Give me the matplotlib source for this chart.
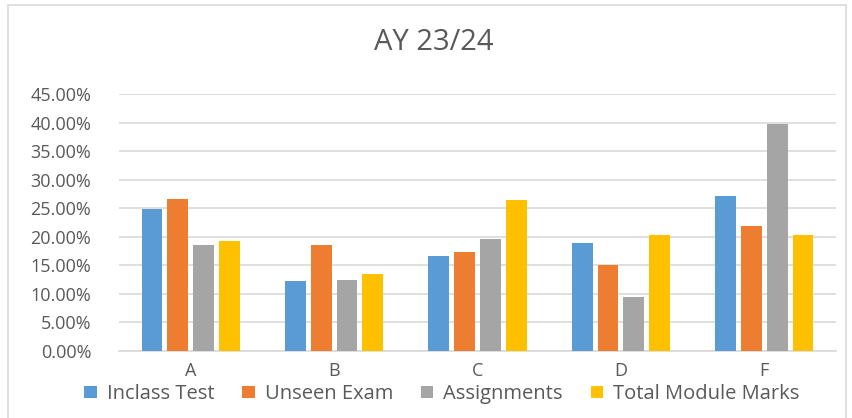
import matplotlib.pyplot as plt
import numpy as np
from matplotlib.patches import Rectangle
from matplotlib.ticker import PercentFormatter

plt.rcParams['font.family'] = ['Open Sans', 'DejaVu Sans']

grades = ['A', 'B', 'C', 'D', 'F']
inclass_test = [24.9, 12.2, 16.6, 18.9, 27.2]
unseen_exam = [26.7, 18.6, 17.3, 15.1, 21.8]
assignments = [18.6, 12.4, 19.6, 9.5, 39.7]
total_marks = [19.3, 13.5, 26.4, 20.3, 20.3]

series = [('Inclass Test', inclass_test, '#5B9BD5'),
          ('Unseen Exam', unseen_exam, '#ED7D31'),
          ('Assignments', assignments, '#A5A5A5'),
          ('Total Module Marks', total_marks, '#FFC000')]

fig = plt.figure(figsize=(8.53, 4.18), dpi=100)
fig.patches.append(Rectangle((8 / 853, -0.1), 838 / 853, 1.1 - 5 / 418, transform=fig.transFigure,
                             facecolor='white', edgecolor='#d9d9d9', linewidth=1.2, zorder=-5))

ax = fig.add_axes([119 / 853, 1 - 351 / 418, 717 / 853, 257 / 418])
ax.set_facecolor('none')

x = np.arange(len(grades))
step = 0.18
for i, (name, vals, col) in enumerate(series):
    ax.bar(x + (i - 1.5) * step, np.array(vals) / 100, width=0.145, color=col,
           label=name, zorder=3)

ax.set_xlim(-0.5, len(grades) - 0.5)
ax.set_ylim(0, 0.45)
ax.set_yticks(np.arange(0, 0.451, 0.05))
ax.yaxis.set_major_formatter(PercentFormatter(1.0, decimals=2))
ax.set_xticks(x)
ax.set_xticklabels(grades)
ax.grid(axis='y', color='#d9d9d9', linewidth=1.2, zorder=0)
for s in ['top', 'right', 'left']:
    ax.spines[s].set_visible(False)
ax.spines['bottom'].set_color('#d9d9d9')
ax.spines['bottom'].set_linewidth(1.2)
ax.tick_params(length=0, colors='#595959', labelsize=13)
ax.tick_params(axis='x', pad=8)
ax.tick_params(axis='y', pad=20)

fig.text(434 / 853, 1 - 43 / 418, 'AY 23/24', ha='center', va='center',
         fontsize=21, color='#595959')

fig.legend(loc='center', bbox_to_anchor=(442 / 853, 1 - 394 / 418), ncol=4, frameon=False,
           fontsize=14.5, labelcolor='#595959', handlelength=0.6, handleheight=0.6,
           handletextpad=0.5, columnspacing=1.4, borderpad=0)

plt.savefig('out.png', dpi=100)
